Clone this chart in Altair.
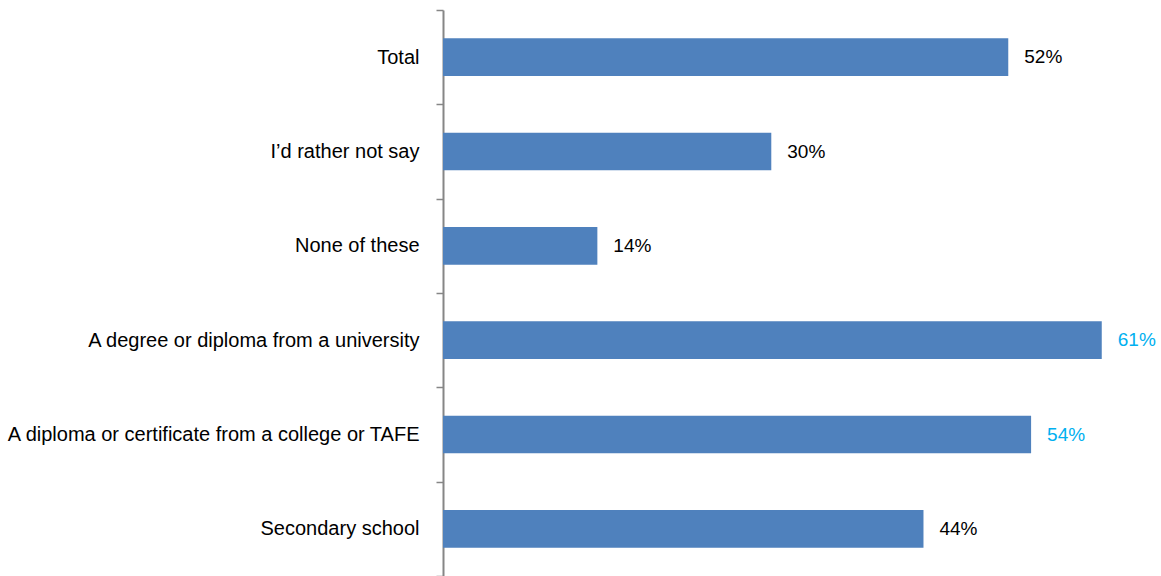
import altair as alt
import pandas as pd

categories = [
    "Total",
    "I\u2019d rather not say",
    "None of these",
    "A degree or diploma from a university",
    "A diploma or certificate from a college or TAFE",
    "Secondary school",
]
values = [52.0, 30.2, 14.2, 60.6, 54.1, 44.2]
labels = ["52%", "30%", "14%", "61%", "54%", "44%"]
highlighted = ["A degree or diploma from a university",
               "A diploma or certificate from a college or TAFE"]

df = pd.DataFrame({"category": categories, "value": values, "label": labels})

FONT = "Liberation Sans"

y = alt.Y(
    "category:N",
    sort=categories,
    scale=alt.Scale(paddingInner=0, paddingOuter=0),
    axis=alt.Axis(
        title=None,
        tickBand="extent",
        tickSize=7,
        tickColor="#868686",
        tickWidth=1.5,
        domainColor="#868686",
        domainWidth=2,
        labelPadding=17,
        labelFont=FONT,
        labelFontSize=20,
        labelColor="#000000",
        labelLimit=600,
        grid=False,
    ),
)
x = alt.X("value:Q", scale=alt.Scale(domain=[0, 66.05], nice=False), axis=None)

bars = alt.Chart(df).mark_bar(color="#4F81BD", height={"band": 0.4}).encode(y=y, x=x)

text = alt.Chart(df).mark_text(
    align="left", baseline="middle", dx=16, font=FONT, fontSize=19
).encode(
    y=y,
    x=x,
    text="label:N",
    color=alt.condition(
        alt.FieldOneOfPredicate(field="category", oneOf=highlighted),
        alt.value("#00B0F0"),
        alt.value("#000000"),
    ),
)

chart = (
    alt.layer(bars, text)
    .properties(
        width=718,
        height=566,
        autosize=alt.AutoSizeParams(type="none"),
        padding={"left": 443, "top": 10, "right": 0, "bottom": 0},
        background="white",
    )
    .configure_view(stroke=None)
)

chart.save("out.html", embed_options={"renderer": "svg", "actions": False})
